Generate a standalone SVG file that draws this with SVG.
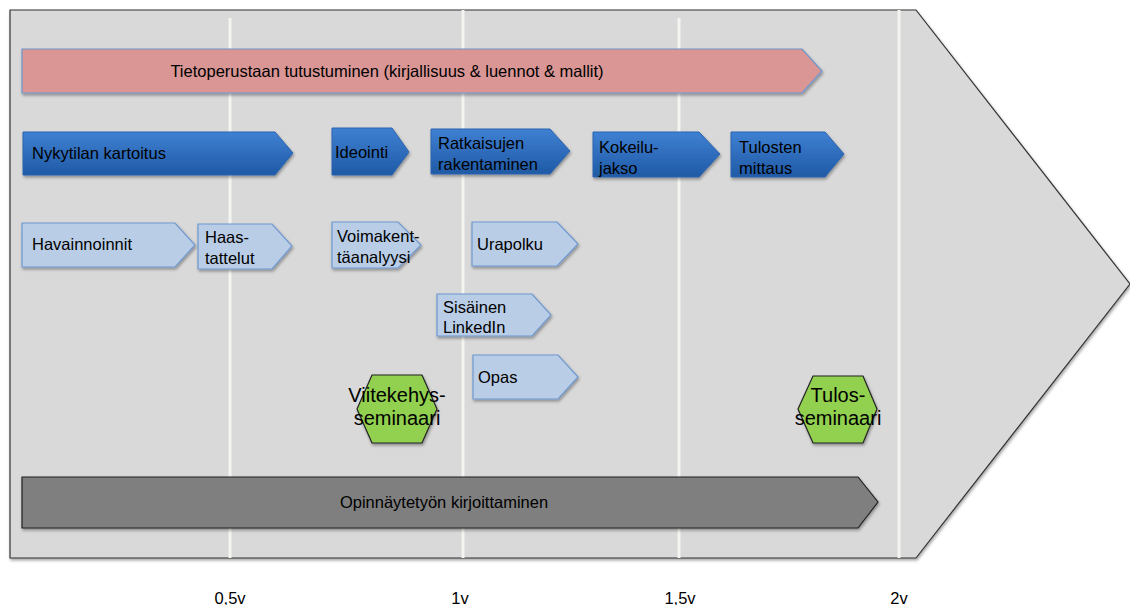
<svg xmlns="http://www.w3.org/2000/svg" width="1130" height="605" viewBox="0 0 1130 605">
  <defs>
    <linearGradient id="blueGrad" x1="0" y1="0" x2="0" y2="1">
      <stop offset="0" stop-color="#3f80d2"/>
      <stop offset="1" stop-color="#1f5aa6"/>
    </linearGradient>
    <filter id="shadow" x="-10%" y="-20%" width="120%" height="150%">
      <feDropShadow dx="1" dy="2" stdDeviation="1.5" flood-color="#000" flood-opacity="0.35"/>
    </filter>
  </defs>
  <style>
    text { font-family: "Liberation Sans", Arial, sans-serif; fill: #000; }
    .lbl { font-size: 16.5px; }
    .big { font-size: 20px; text-anchor: middle; }
    .axis { font-size: 16.5px; text-anchor: middle; }
    .frame { fill: #d9d9d9; stroke: #333; stroke-width: 1.2; }
    .grid { stroke: #f4f4f0; stroke-width: 3; }
    .pink { fill: #d99695; stroke: #6f96cc; stroke-width: 1.2; filter: url(#shadow); }
    .dark { fill: url(#blueGrad); stroke: #2a63b0; stroke-width: 1; filter: url(#shadow); }
    .light { fill: #b9cde6; stroke: #6f98cf; stroke-width: 1.2; filter: url(#shadow); }
    .grey { fill: #7f7f7f; stroke: #222; stroke-width: 1.2; filter: url(#shadow); }
    .hex { fill: #92d050; stroke: #222; stroke-width: 1.2; filter: url(#shadow); }
  </style>

  <!-- timeline frame -->
  <g id="timeline">
    <polygon class="frame" points="10,10 916,10 1130,284 916,558 10,558" filter="url(#shadow)"/>
    <line class="grid" x1="230" y1="18" x2="230" y2="558"/>
    <line class="grid" x1="463" y1="10" x2="463" y2="558"/>
    <line class="grid" x1="679" y1="18" x2="679" y2="558"/>
    <line class="grid" x1="899" y1="10" x2="899" y2="558"/>
  </g>

  <g id="tietoperusta">
    <polygon class="pink" points="22,49 802,49 822,71 802,93 22,93"/>
    <text class="lbl" x="387" y="77" text-anchor="middle">Tietoperustaan tutustuminen (kirjallisuus &amp; luennot &amp; mallit)</text>
  </g>

  <!-- main phases -->
  <g id="nykytila">
    <polygon class="dark" points="23,132 275,132 293,153 275,175 23,175"/>
    <text class="lbl" x="32" y="159">Nykytilan kartoitus</text>
  </g>
  <g id="ideointi">
    <polygon class="dark" points="332,128 392,128 409,152 392,175 332,175"/>
    <text class="lbl" x="335" y="158">Ideointi</text>
  </g>
  <g id="ratkaisut">
    <polygon class="dark" points="431,129 550,129 570,151 550,174 431,174"/>
    <text class="lbl" x="438" y="149">Ratkaisujen</text>
    <text class="lbl" x="438" y="170">rakentaminen</text>
  </g>
  <g id="kokeilu">
    <polygon class="dark" points="593,132 699,132 720,154 699,177 593,177"/>
    <text class="lbl" x="599" y="153">Kokeilu-</text>
    <text class="lbl" x="599" y="174">jakso</text>
  </g>
  <g id="tulokset">
    <polygon class="dark" points="731,132 825,132 844,154 825,177 731,177"/>
    <text class="lbl" x="739" y="153">Tulosten</text>
    <text class="lbl" x="739" y="174">mittaus</text>
  </g>

  <!-- sub-tasks -->
  <g id="havainnoinnit">
    <polygon class="light" points="22,223 175,223 195,245 175,267 22,267"/>
    <text class="lbl" x="32" y="250">Havainnoinnit</text>
  </g>
  <g id="haastattelut">
    <polygon class="light" points="198,224 272,224 292,246 272,269 198,269"/>
    <text class="lbl" x="205" y="243">Haas-</text>
    <text class="lbl" x="205" y="264">tattelut</text>
  </g>
  <g id="voimakentta">
    <polygon class="light" points="332,222 398,222 421,245 398,268 332,268"/>
    <text class="lbl" x="337" y="242">Voimakent-</text>
    <text class="lbl" x="337" y="263">täanalyysi</text>
  </g>
  <g id="urapolku">
    <polygon class="light" points="472,222 557,222 578,244 557,266 472,266"/>
    <text class="lbl" x="477" y="250">Urapolku</text>
  </g>
  <g id="linkedin">
    <polygon class="light" points="437,294 532,294 551,315 532,336 437,336"/>
    <text class="lbl" x="443" y="313">Sisäinen</text>
    <text class="lbl" x="443" y="333">LinkedIn</text>
  </g>
  <g id="opas">
    <polygon class="light" points="473,355 558,355 578,377 558,399 473,399"/>
    <text class="lbl" x="478" y="383">Opas</text>
  </g>

  <!-- seminars -->
  <g id="viitekehys">
    <polygon class="hex" points="372,375 422,375 437,409 422,443 372,443 357,409"/>
    <text class="big" x="397" y="402">Viitekehys-</text>
    <text class="big" x="397" y="425">seminaari</text>
  </g>
  <g id="tulosseminaari">
    <polygon class="hex" points="813,376 863,376 877,409 863,443 813,443 798,409"/>
    <text class="big" x="838" y="402">Tulos-</text>
    <text class="big" x="838" y="425">seminaari</text>
  </g>

  <g id="opinnaytetyo">
    <polygon class="grey" points="22,477 858,477 878,502 858,528 22,528"/>
    <text class="lbl" x="444" y="508" text-anchor="middle">Opinnäytetyön kirjoittaminen</text>
  </g>

  <g id="axis">
    <text class="axis" x="230" y="604">0,5v</text>
    <text class="axis" x="460" y="604">1v</text>
    <text class="axis" x="680" y="604">1,5v</text>
    <text class="axis" x="899" y="604">2v</text>
  </g>
</svg>
